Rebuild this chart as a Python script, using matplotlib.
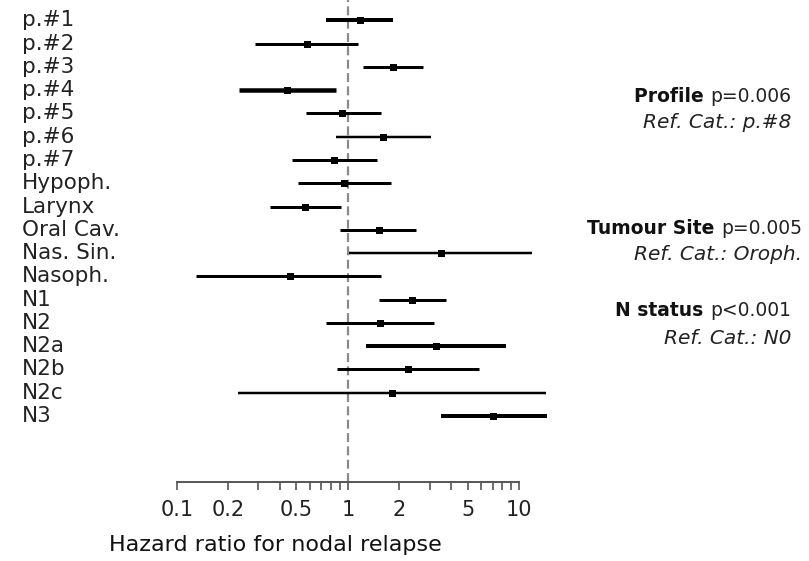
import matplotlib
matplotlib.use("Agg")
import matplotlib.pyplot as plt
import matplotlib.transforms as mtransforms
from matplotlib.ticker import FixedLocator, NullFormatter, FixedFormatter

# ---- data ----
labels = ["p.#1", "p.#2", "p.#3", "p.#4", "p.#5", "p.#6", "p.#7",
          "Hypoph.", "Larynx", "Oral Cav.", "Nas. Sin.", "Nasoph.",
          "N1", "N2", "N2a", "N2b", "N2c", "N3"]
hr = [1.17, 0.58, 1.83, 0.44, 0.93, 1.61, 0.83,
      0.955, 0.56, 1.51, 3.50, 0.456,
      2.38, 1.54, 3.25, 2.24, 1.81, 7.08]
ci_low = [0.75, 0.288, 1.22, 0.232, 0.569, 0.851, 0.471,
          0.511, 0.352, 0.898, 1.01, 0.130,
          1.52, 0.747, 1.27, 0.863, 0.229, 3.50]
ci_high = [1.83, 1.15, 2.73, 0.855, 1.56, 3.06, 1.48,
           1.79, 0.91, 2.50, 11.96, 1.57,
           3.73, 3.19, 8.40, 5.87, 14.4, 14.6]
# line width (in pixels) of each interval, as drawn in the reference
line_px = [4.0, 3.0, 3.0, 4.5, 3.0, 2.5, 3.0,
           3.0, 3.0, 3.0, 2.5, 3.0,
           3.0, 3.0, 4.0, 3.0, 2.5, 4.0]

major_ticks = [0.1, 0.2, 0.5, 1, 2, 5, 10]
major_tick_labels = ["0.1", "0.2", "0.5", "1", "2", "5", "10"]
minor_ticks = [0.3, 0.4, 0.6, 0.7, 0.8, 0.9, 3, 4, 6, 7, 8, 9]

groups = [("Profile", "p=0.006", "Ref. Cat.: p.#8"),
          ("Tumour Site", "p=0.005", "Ref. Cat.: Oroph."),
          ("N status", "p<0.001", "Ref. Cat.: N0")]
group_y_px = [(96, 122), (228, 254), (311, 338)]
group_right_px = [791, 802, 791]

xlabel = "Hazard ratio for nodal relapse"

# ---- figure ----
W, H = 809, 561
DPI = 100
fig = plt.figure(figsize=(W / DPI, H / DPI), dpi=DPI)
plt.rcParams['font.family'] = ['DejaVu Sans']

x0_px, x1_px = 176.7, 570.6
bottom_px = 482
ax = fig.add_axes([x0_px / W, 1 - bottom_px / H, (x1_px - x0_px) / W, bottom_px / H])
ax.set_xscale("log")
ax.set_xlim(0.1, 20)
n = len(labels)
row_px = 23.28
y_top = -20.3 / row_px
y_bot = (n - 1) + (bottom_px - 416) / row_px
ax.set_ylim(y_bot, y_top)

for s in ["top", "right", "left"]:
    ax.spines[s].set_visible(False)
ax.spines["bottom"].set_bounds(0.1, 10)
ax.spines["bottom"].set_color("#555555")
ax.spines["bottom"].set_linewidth(1.4)
ax.set_yticks([])

ax.xaxis.set_major_locator(FixedLocator(major_ticks))
ax.xaxis.set_major_formatter(FixedFormatter(major_tick_labels))
ax.xaxis.set_minor_locator(FixedLocator(minor_ticks))
ax.xaxis.set_minor_formatter(NullFormatter())
ax.tick_params(axis="x", which="both", direction="out", length=6, width=1.2,
               color="#555555", labelsize=15, labelcolor="#222222", pad=7)

# reference line
ax.axvline(1, color="#8a8a8a", lw=1.6, ls=(0, (4, 2)), zorder=1)

px2pt = 72 / DPI
for i in range(n):
    ax.plot([ci_low[i], ci_high[i]], [i, i], color="black",
            lw=line_px[i] * px2pt, solid_capstyle="butt", zorder=2)
    ax.plot(hr[i], i, marker="s", color="black", ms=7 * px2pt,
            mew=0, zorder=3)

# row labels, left aligned
trans = mtransforms.blended_transform_factory(fig.transFigure, ax.transData)
for i, lab in enumerate(labels):
    fig.text(22 / W, i, lab, transform=trans, ha="left", va="center",
             fontsize=15.5, color="#222222")

# x label
ax.set_xlabel(xlabel, fontsize=16, color="#111111")
ax.xaxis.set_label_coords((275 - x0_px) / (x1_px - x0_px), -(545 - bottom_px) / bottom_px)
ax.xaxis.label.set_va("center")

# group annotations
for (bold, pval, ref), (y1, y2), xr in zip(groups, group_y_px, group_right_px):
    t = fig.text(xr / W, 1 - y1 / H, pval, ha="right", va="center",
                 fontsize=13.5, color="#222222")
    ax.annotate(bold + " ", xy=(0, 0), xycoords=t, ha="right", va="bottom",
                fontsize=13.5, fontweight="bold", color="#111111",
                annotation_clip=False)
    fig.text(xr / W, 1 - y2 / H, ref, ha="right", va="center",
             fontsize=14.5, style="italic", color="#222222")

fig.savefig("out.png", dpi=DPI)
